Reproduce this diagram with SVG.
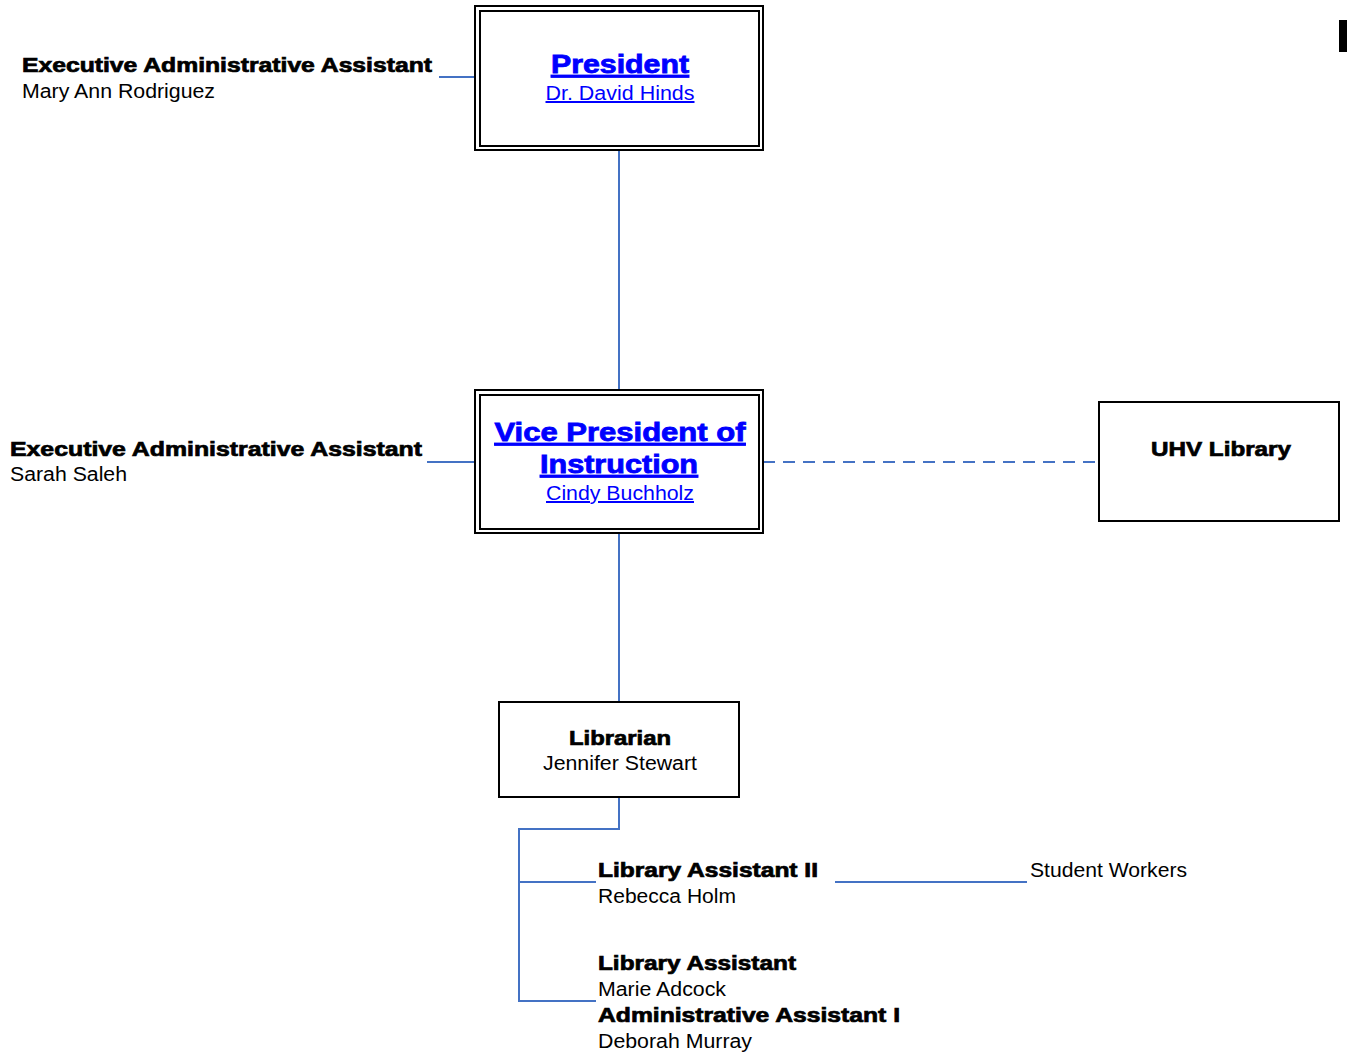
<svg xmlns="http://www.w3.org/2000/svg" width="1347" height="1053" viewBox="0 0 1347 1053">
<style>
.b{font-family:"Liberation Sans",Arial,sans-serif;font-weight:bold;font-size:20px;fill:#000;stroke:#000;stroke-width:0.7}
.r{font-family:"Liberation Sans",Arial,sans-serif;font-size:20px;fill:#000}
.lb{font-family:"Liberation Sans",Arial,sans-serif;font-weight:bold;font-size:25px;fill:#0000ff;stroke:#0000ff;stroke-width:0.8;text-decoration:underline}
.lr{font-family:"Liberation Sans",Arial,sans-serif;font-size:20px;fill:#0000ff;text-decoration:underline}
.box{fill:#fff;stroke:#000;stroke-width:2}
.c{fill:none;stroke:#4472c4;stroke-width:2}
.m{text-anchor:middle}
</style>
<rect width="1347" height="1053" fill="#fff"/>
<rect x="1339" y="20" width="8" height="32" fill="#000"/>
<g id="connectors">
<line class="c" x1="619" y1="150" x2="619" y2="390"/>
<line class="c" x1="619" y1="533" x2="619" y2="702"/>
<line class="c" x1="439" y1="77" x2="475" y2="77"/>
<line class="c" x1="427" y1="462" x2="475" y2="462"/>
<line class="c" x1="763" y1="462" x2="1099" y2="462" stroke-dasharray="12,8"/>
<polyline class="c" points="619,797 619,829 519,829 519,1001 596,1001"/>
<line class="c" x1="519" y1="882" x2="596" y2="882"/>
<line class="c" x1="835" y1="882" x2="1027" y2="882"/>
</g>
<g id="president">
<rect class="box" x="475" y="6" width="288" height="144"/>
<rect class="box" x="480" y="11" width="279" height="135"/>
<text class="lb m" x="620" y="73" textLength="138" lengthAdjust="spacingAndGlyphs">President</text>
<text class="lr m" x="620" y="100" textLength="149" lengthAdjust="spacingAndGlyphs">Dr. David Hinds</text>
</g>
<g id="exec1">
<text class="b" x="22" y="72" textLength="410" lengthAdjust="spacingAndGlyphs">Executive Administrative Assistant</text>
<text class="r" x="22" y="98" textLength="193" lengthAdjust="spacingAndGlyphs">Mary Ann Rodriguez</text>
</g>
<g id="vp">
<rect class="box" x="475" y="390" width="288" height="143"/>
<rect class="box" x="480" y="395" width="279" height="134"/>
<text class="lb m" x="620" y="441" textLength="251" lengthAdjust="spacingAndGlyphs">Vice President of</text>
<text class="lb m" x="619" y="473" textLength="158" lengthAdjust="spacingAndGlyphs">Instruction</text>
<text class="lr m" x="620" y="500" textLength="148" lengthAdjust="spacingAndGlyphs">Cindy Buchholz</text>
</g>
<g id="exec2">
<text class="b" x="10" y="456" textLength="412" lengthAdjust="spacingAndGlyphs">Executive Administrative Assistant</text>
<text class="r" x="10" y="481" textLength="117" lengthAdjust="spacingAndGlyphs">Sarah Saleh</text>
</g>
<g id="uhv">
<rect class="box" x="1099" y="402" width="240" height="119"/>
<text class="b m" x="1221" y="456" textLength="140" lengthAdjust="spacingAndGlyphs">UHV Library</text>
</g>
<g id="librarian">
<rect class="box" x="499" y="702" width="240" height="95"/>
<text class="b m" x="620" y="745" textLength="102" lengthAdjust="spacingAndGlyphs">Librarian</text>
<text class="r m" x="620" y="770" textLength="154" lengthAdjust="spacingAndGlyphs">Jennifer Stewart</text>
</g>
<g id="la2">
<text class="b" x="598" y="877" textLength="220" lengthAdjust="spacingAndGlyphs">Library Assistant II</text>
<text class="r" x="598" y="903" textLength="138" lengthAdjust="spacingAndGlyphs">Rebecca Holm</text>
</g>
<g id="students">
<text class="r" x="1030" y="877" textLength="157" lengthAdjust="spacingAndGlyphs">Student Workers</text>
</g>
<g id="la">
<text class="b" x="598" y="970" textLength="198" lengthAdjust="spacingAndGlyphs">Library Assistant</text>
<text class="r" x="598" y="996" textLength="128" lengthAdjust="spacingAndGlyphs">Marie Adcock</text>
<text class="b" x="598" y="1022" textLength="302" lengthAdjust="spacingAndGlyphs">Administrative Assistant I</text>
<text class="r" x="598" y="1048" textLength="154" lengthAdjust="spacingAndGlyphs">Deborah Murray</text>
</g>
</svg>
